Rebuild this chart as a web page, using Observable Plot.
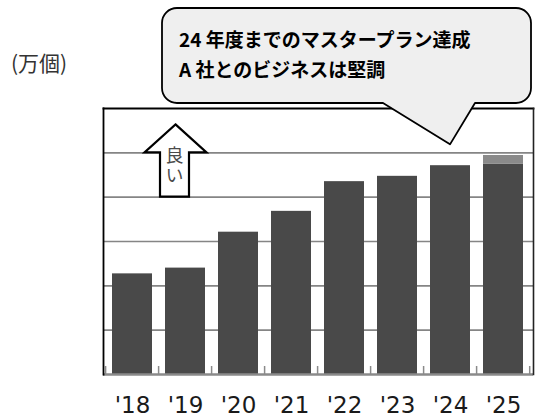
<!DOCTYPE html>
<html><head><meta charset="utf-8">
<script src="https://cdn.jsdelivr.net/npm/d3@7"></script>
<script src="https://cdn.jsdelivr.net/npm/@observablehq/plot@0.6"></script>
<style>
body{margin:0;background:#fff;}
#chart{width:535px;height:419px;}
</style>
</head><body><div id="chart"></div>
<script>
const years = ["'18","'19","'20","'21","'22","'23","'24","'25"];
const actual = [2.27, 2.40, 3.21, 3.68, 4.35, 4.47, 4.71, 4.74];
const planExtra = [0, 0, 0, 0, 0, 0, 0, 0.20];
const gridLines = [1, 2, 3, 4, 5];
const unitLabel = "(万個)";
const bubbleLines = ["24 年度までのマスタープラン達成", "A 社とのビジネスは堅調"];
const arrowText = "良い";

const rows = years.map((y, i) => ({year: y, v0: 0, v1: actual[i], e0: actual[i], e1: actual[i] + planExtra[i]}));

const plot = Plot.plot({
  width: 535, height: 419,
  marginTop: 108, marginBottom: 45, marginLeft: 103, marginRight: 2,
  style: {background: "#fff", fontFamily: "'DejaVu Sans', Verdana, sans-serif"},
  x: {domain: years, paddingInner: 0.24, paddingOuter: 0.12, label: null},
  y: {domain: [0, 6], axis: null},
  marks: [
    Plot.ruleY(gridLines, {stroke: "#858585", strokeWidth: 1.6}),
    Plot.barY(rows, {x: "year", y1: "v0", y2: "v1", fill: "#494949"}),
    Plot.barY(rows.filter(d => d.e1 > d.e0), {x: "year", y1: "e0", y2: "e1", fill: "#8a8a8a"}),
    Plot.ruleX(years, {x: d => d, dx: -26.9, y1: 0, y2: 0.18, stroke: "#8a8a8a", strokeWidth: 1.5}),
    Plot.ruleX(years.slice(-1), {x: d => d, dx: 26.2, y1: 0, y2: 0.18, stroke: "#8a8a8a", strokeWidth: 1.5}),
    Plot.ruleY([0], {stroke: "#8a8a8a", strokeWidth: 2.5}),
    Plot.frame({stroke: "#000", strokeWidth: 1.8, anchor: "left"}),
    Plot.frame({stroke: "#000", strokeWidth: 1.8, anchor: "top"}),
    Plot.frame({stroke: "#222", strokeWidth: 1.6, anchor: "right"}),
    Plot.axisX({tickSize: 0, tickPadding: 22, fontSize: 23, fill: "#1a1a1a", fontFamily: "'DejaVu Sans', Verdana, sans-serif"})
  ]
});
document.getElementById("chart").appendChild(plot);

const svg = d3.select(plot);
const xs = plot.scale("x"), ys = plot.scale("y");
const Y = v => ys.apply(v);

// unit label
svg.append("text").attr("x", 11).attr("y", 71).attr("text-anchor", "start")
  .attr("font-family", "'Noto Sans CJK JP', sans-serif").attr("font-size", 21)
  .attr("fill", "#333").text(unitLabel);

// "good" arrow
const ax = 175.5;
const arrowPath = d3.path();
arrowPath.moveTo(ax, Y(5.63));
arrowPath.lineTo(ax + 31, Y(5));
arrowPath.lineTo(ax + 13.5, Y(5));
arrowPath.lineTo(ax + 13.5, Y(4));
arrowPath.lineTo(ax - 15.5, Y(4));
arrowPath.lineTo(ax - 15.5, Y(5));
arrowPath.lineTo(ax - 31, Y(5));
arrowPath.closePath();
svg.append("path").attr("d", arrowPath.toString())
  .attr("fill", "#fff").attr("stroke", "#000").attr("stroke-width", 2.2).attr("stroke-linejoin", "miter");
svg.append("text").attr("x", ax - 1).attr("y", Y(5) - 6)
  .attr("text-anchor", "start")
  .style("writing-mode", "vertical-rl")
  .attr("letter-spacing", 2)
  .attr("font-family", "'Noto Sans CJK JP', sans-serif").attr("font-size", 18)
  .attr("fill", "#4a4a4a").text(arrowText);

// speech bubble
const bx0 = 162, bx1 = 531, by0 = 8, by1 = 103, r = 15;
const tipX = xs.apply("'24") + xs.bandwidth / 2, tipY = Y(5.18);
const tl = 383, tr = 475;
const p = d3.path();
p.moveTo(bx0 + r, by0);
p.lineTo(bx1 - r, by0);
p.arcTo(bx1, by0, bx1, by0 + r, r);
p.lineTo(bx1, by1 - r);
p.arcTo(bx1, by1, bx1 - r, by1, r);
p.lineTo(tr, by1);
p.lineTo(tipX, tipY);
p.lineTo(tl, by1);
p.lineTo(bx0 + r, by1);
p.arcTo(bx0, by1, bx0, by1 - r, r);
p.lineTo(bx0, by0 + r);
p.arcTo(bx0, by0, bx0 + r, by0, r);
p.closePath();
svg.append("path").attr("d", p.toString())
  .attr("fill", "#efefef").attr("stroke", "#000").attr("stroke-width", 1.8).attr("stroke-linejoin", "round");
bubbleLines.forEach((t, i) => {
  svg.append("text").attr("x", 179).attr("y", 47 + i * 29.5).attr("text-anchor", "start")
    .attr("font-family", "'Noto Sans CJK JP', sans-serif").attr("font-weight", "bold").attr("font-size", 19)
    .attr("fill", "#000").text(t);
});
</script>
</body></html>
